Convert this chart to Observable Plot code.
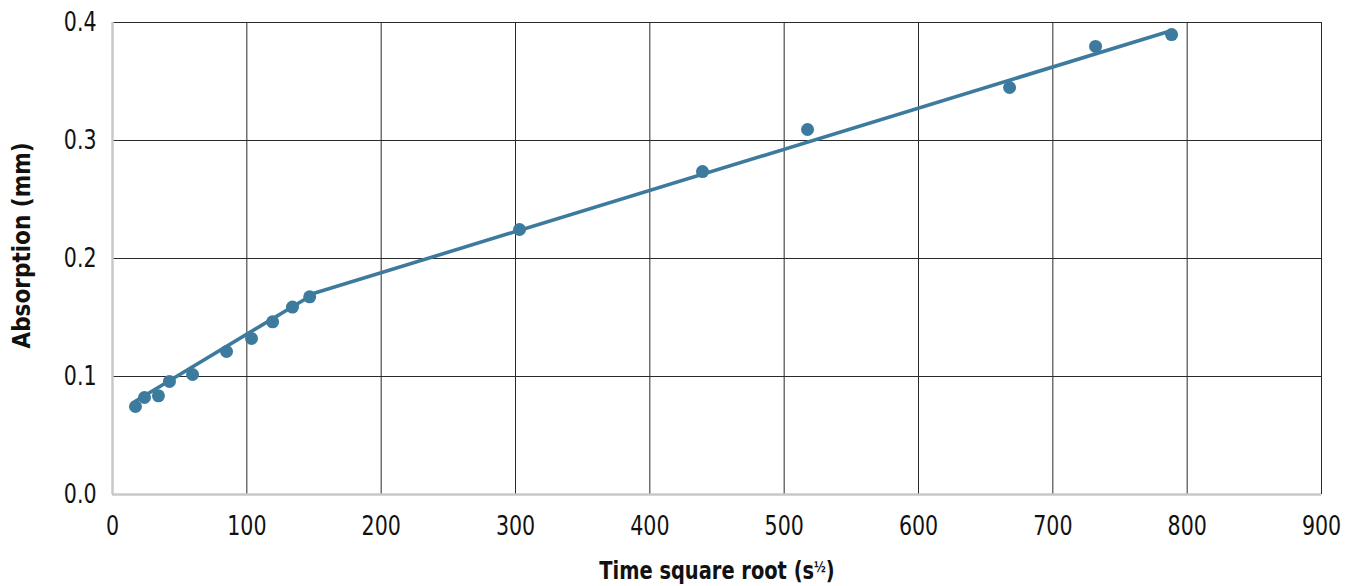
<!DOCTYPE html>
<html><head><meta charset="utf-8">
<script src="https://cdn.jsdelivr.net/npm/d3@7"></script>
<script src="https://cdn.jsdelivr.net/npm/@observablehq/plot@0.6"></script>
<style>body{margin:0;background:#fff}</style>
</head><body><div id="chart"></div>
<script>
const timeRoot = [17.1, 23.8, 34.2, 42.4, 59.6, 84.9, 103.5, 119.2, 134.0, 146.8, 303.0, 439.2, 517.4, 667.8, 731.8, 788.4];
const absorption = [0.0746, 0.0822, 0.0836, 0.0958, 0.1017, 0.1212, 0.1322, 0.1463, 0.1588, 0.1675, 0.2246, 0.2737, 0.3093, 0.3449, 0.3797, 0.3898];
const fitEarlyX = [17, 147];
const fitEarlyY = [0.079, 0.168];
const fitLateX = [147, 788];
const fitLateY = [0.1695, 0.393];
const xTicks = [0, 100, 200, 300, 400, 500, 600, 700, 800, 900];
const yTicks = [0, 0.1, 0.2, 0.3, 0.4];
const xLabel = "Time square root (s½)";
const yLabel = "Absorption (mm)";

const pts = timeRoot.map((x, i) => ({x, y: absorption[i]}));
const fit = [
  ...fitEarlyX.map((x, i) => ({x, y: fitEarlyY[i], seg: "early"})),
  ...fitLateX.map((x, i) => ({x, y: fitLateY[i], seg: "late"}))
];
const font = "'Liberation Sans Narrow', 'Arial Narrow', 'DejaVu Sans Condensed', sans-serif";
const blue = "#3d7b9e";

const chart = Plot.plot({
  width: 1351, height: 586,
  marginLeft: 112, marginRight: 30, marginTop: 22, marginBottom: 92,
  style: {fontFamily: font, fontSize: "26px", color: "#111", background: "#fff", overflow: "visible"},
  x: {domain: [0, 900]},
  y: {domain: [0, 0.4]},
  marks: [
    Plot.gridX(xTicks.filter(d => d > 0), {stroke: "#2a2a2a", strokeOpacity: 1, strokeWidth: 1}),
    Plot.gridY(yTicks.filter(d => d > 0), {stroke: "#2a2a2a", strokeOpacity: 1, strokeWidth: 1}),
    Plot.ruleX([0], {stroke: "#c8c8c8", strokeWidth: 2.5}),
    Plot.ruleY([0], {stroke: "#c8c8c8", strokeWidth: 2.5}),
    Plot.axisX(xTicks, {tickSize: 0, tickPadding: 22, fontSize: 26, label: xLabel, labelAnchor: "center", labelArrow: "none", labelOffset: 84}),
    Plot.axisY(yTicks, {tickSize: 0, tickPadding: 16, fontSize: 26, tickFormat: d3.format(".1f"), label: yLabel, labelAnchor: "center", labelArrow: "none", labelOffset: 100}),
    Plot.line(fit, {x: "x", y: "y", z: "seg", stroke: blue, strokeWidth: 3.6}),
    Plot.dot(pts, {x: "x", y: "y", r: 6.5, fill: blue})
  ]
});
document.getElementById("chart").append(chart);

function squeeze(t, sx, extra) {
  const xa = t.getAttribute("x");
  if (xa !== null && /^-?[0-9.]+$/.test(xa.trim())) t.setAttribute("x", (+xa) / sx);
  const tr = t.getAttribute("transform") || "";
  t.setAttribute("transform", `${tr} ${extra || ""} scale(${sx},1)`);
}

chart.querySelectorAll("text").forEach(t => {
  const s = t.textContent;
  if (s.includes("Time square root")) {
    t.style.fontWeight = "bold";
    t.style.fontSize = "24px";
    t.textContent = "";
    const ns = "http://www.w3.org/2000/svg";
    const a = document.createElementNS(ns, "tspan"); a.textContent = "Time square root (s";
    const b = document.createElementNS(ns, "tspan"); b.textContent = "½"; b.setAttribute("font-size", "14px"); b.setAttribute("dy", "-0.5em");
    const c = document.createElementNS(ns, "tspan"); c.textContent = ")"; c.setAttribute("dy", "0.33em");
    t.append(a, b, c);
    squeeze(t, 0.9);
  } else if (s.includes("Absorption")) {
    t.style.fontWeight = "bold";
    t.style.fontSize = "24px";
    squeeze(t, 1.0, "translate(13,0)");
  } else if (/^[0-9.]+$/.test(s.trim())) {
    squeeze(t, 0.88);
  }
});
</script>
</body></html>
